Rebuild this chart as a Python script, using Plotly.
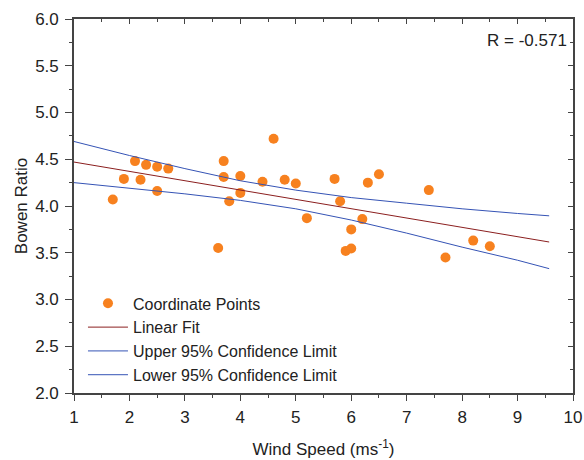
import plotly.graph_objects as go

# Scatter data (Wind Speed, Bowen Ratio)
wind_speed = [1.7, 1.9, 2.1, 2.2, 2.3, 2.5, 2.5, 2.7, 3.6, 3.7, 3.7, 3.8, 4.0, 4.0, 4.4, 4.6,
              4.8, 5.0, 5.2, 5.7, 5.8, 5.9, 6.0, 6.0, 6.2, 6.3, 6.5, 7.4, 7.7, 8.2, 8.5]
bowen_ratio = [4.07, 4.29, 4.48, 4.28, 4.44, 4.42, 4.16, 4.40, 3.55, 4.48, 4.31, 4.05, 4.32, 4.14, 4.26, 4.72,
               4.28, 4.24, 3.87, 4.29, 4.05, 3.52, 3.75, 3.545, 3.86, 4.25, 4.34, 4.17, 3.45, 3.63, 3.57]

# Linear fit line
fit_x = [1.0, 9.57]
fit_y = [4.47, 3.615]

# Confidence limit curves
ci_x = [1.0, 2.0, 3.0, 4.0, 5.0, 6.0, 7.0, 8.0, 9.0, 9.57]
upper_y = [4.69, 4.54, 4.40, 4.27, 4.17, 4.09, 4.03, 3.97, 3.92, 3.895]
lower_y = [4.25, 4.19, 4.13, 4.06, 3.97, 3.85, 3.71, 3.56, 3.42, 3.33]

x_ticks = [1, 2, 3, 4, 5, 6, 7, 8, 9, 10]
y_ticks = [2.0, 2.5, 3.0, 3.5, 4.0, 4.5, 5.0, 5.5, 6.0]

ORANGE = "#f7811f"
RED = "#8b1f1f"
BLUE = "#3553b5"
AXC = "#444444"
TXT = "#222222"
FONT = "Liberation Sans, Arial, sans-serif"

fig = go.Figure()
fig.add_trace(go.Scatter(x=wind_speed, y=bowen_ratio, mode="markers", name="Coordinate Points",
                         marker=dict(color=ORANGE, size=10, line=dict(width=0))))
fig.add_trace(go.Scatter(x=fit_x, y=fit_y, mode="lines", name="Linear Fit",
                         line=dict(color=RED, width=1)))
fig.add_trace(go.Scatter(x=ci_x, y=upper_y, mode="lines", name="Upper 95% Confidence Limit",
                         line=dict(color=BLUE, width=1)))
fig.add_trace(go.Scatter(x=ci_x, y=lower_y, mode="lines", name="Lower 95% Confidence Limit",
                         line=dict(color=BLUE, width=1)))
# invisible trace to activate mirror axes
fig.add_trace(go.Scatter(x=[1], y=[2], xaxis="x2", yaxis="y2", mode="markers",
                         marker=dict(opacity=0), showlegend=False, hoverinfo="skip"))

common = dict(showgrid=False, zeroline=False, showline=True, linecolor=AXC, linewidth=1.6,
              tickcolor=AXC, tickwidth=1.3, automargin=False)

fig.update_layout(
    width=584, height=460,
    margin=dict(l=74, r=11, t=19, b=67),
    paper_bgcolor="white", plot_bgcolor="white",
    font=dict(family=FONT, size=17, color=TXT),
    xaxis=dict(range=[1, 10], tickvals=x_ticks, ticks="outside", ticklen=6, ticklabelstandoff=2,
               minor=dict(ticks="outside", ticklen=3, dtick=0.5, tick0=1, tickcolor=AXC),
               title=dict(text="Wind Speed (ms<sup>-1</sup>)", standoff=17, font=dict(size=17)),
               tickfont=dict(size=17), **common),
    yaxis=dict(range=[2, 6], tickvals=y_ticks, tickformat=".1f", ticks="outside", ticklen=7,
               ticklabelstandoff=3,
               minor=dict(ticks="outside", ticklen=3, dtick=0.25, tick0=2, tickcolor=AXC),
               title=dict(text="Bowen Ratio", standoff=3, font=dict(size=17)),
               tickfont=dict(size=17), **common),
    xaxis2=dict(range=[1, 10], overlaying="x", side="top", tickvals=x_ticks, ticks="inside", ticklen=5,
                minor=dict(ticks="inside", ticklen=3, dtick=0.5, tick0=1, tickcolor=AXC),
                showticklabels=False, **common),
    yaxis2=dict(range=[2, 6], overlaying="y", side="right", tickvals=y_ticks, ticks="inside", ticklen=5,
                minor=dict(ticks="inside", ticklen=3, dtick=0.25, tick0=2, tickcolor=AXC),
                showticklabels=False, **common),
    legend=dict(x=0.018, y=0.285, xanchor="left", yanchor="top", bgcolor="rgba(0,0,0,0)",
                font=dict(size=16, color=TXT), tracegroupgap=0, itemwidth=40),
    showlegend=True,
)

fig.add_annotation(text="R = -0.571", xref="paper", yref="paper", x=0.992, y=0.942,
                   xanchor="right", yanchor="middle", showarrow=False,
                   font=dict(size=17, color=TXT))

fig.write_html("out.html")
